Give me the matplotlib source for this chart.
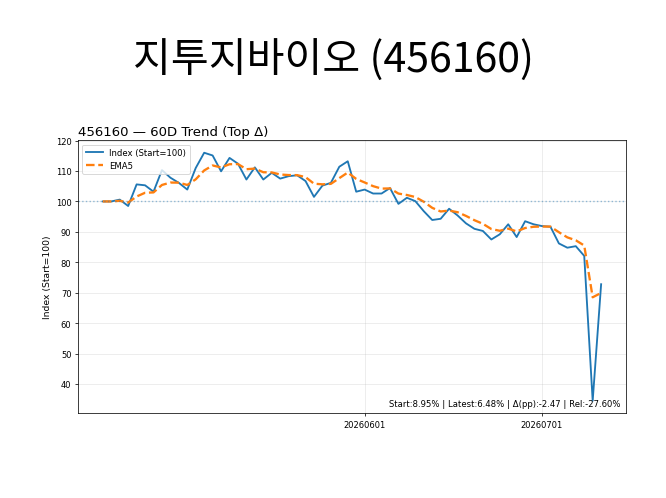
import matplotlib
matplotlib.use('Agg')
import matplotlib.pyplot as plt
import numpy as np
import pandas as pd

# normalized index (start = 100), 60 trading days
index_vals = [
    100.0, 100.0, 100.6, 98.5, 105.6, 105.3, 103.2, 110.3, 107.8, 106.1,
    103.9, 111.0, 116.0, 115.1, 109.9, 114.3, 112.4, 107.2, 111.2, 107.2,
    109.4, 107.5, 108.3, 108.6, 106.7, 101.5, 105.2, 106.1, 111.4, 113.2,
    103.2, 103.9, 102.6, 102.6, 104.4, 99.2, 101.2, 100.1, 96.8, 93.9,
    94.3, 97.6, 95.4, 92.8, 91.0, 90.3, 87.5, 89.2, 92.5, 88.3,
    93.5, 92.5, 91.9, 91.7, 86.2, 84.8, 85.3, 82.1, 34.5, 72.8,
]
tick_pos = [31, 52]
tick_labels = ['20260601', '20260701']

title = '지투지바이오 (456160)'
subtitle = '456160 — 60D Trend (Top Δ)'
note = 'Start:8.95% | Latest:6.48% | Δ(pp):-2.47 | Rel:-27.60%'

s = pd.Series(index_vals)
ema5 = s.ewm(span=5, adjust=False).mean()
x = np.arange(len(s))

fig = plt.figure(figsize=(10, 7.49), dpi=66.6)
ax = fig.add_subplot(111)
fig.subplots_adjust(left=0.117, right=0.94, bottom=0.17, top=0.717)

ax.plot(x, s, color='tab:blue', linewidth=2, label='Index (Start=100)')
ax.plot(x, ema5, color='tab:orange', linewidth=2.5, linestyle='--', label='EMA5')
ax.axhline(100, color='tab:blue', linestyle=':', linewidth=1.5, alpha=0.45)

ax.set_xticks(tick_pos)
ax.set_xticklabels(tick_labels)
ax.tick_params(labelsize=9)
ax.set_ylabel('Index (Start=100)', fontsize=10)
ax.set_title(subtitle, loc='left', fontsize=14.4)
ax.grid(True, alpha=0.3)
ax.legend(loc='upper left', fontsize=9.2)
ax.text(0.99, 0.02, note, transform=ax.transAxes, ha='right', va='bottom', fontsize=9.2)

fig.suptitle(title, fontsize=44.5, y=0.878, va='center',
             family=['Noto Sans CJK KR', 'DejaVu Sans'])

fig.savefig('out.png', dpi=66.6)
